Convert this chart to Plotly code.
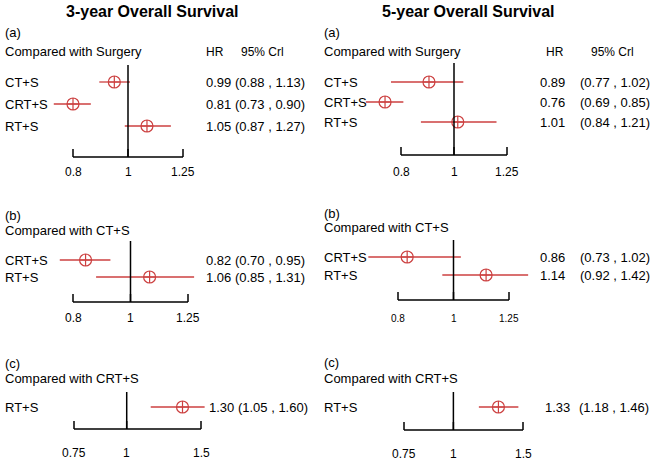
import math
import plotly.graph_objects as go

# ---- data ----
titles = ["3-year Overall Survival", "5-year Overall Survival"]
panel_tags = ["(a)", "(b)", "(c)"]
comparators = ["Compared with Surgery", "Compared with CT+S", "Compared with CRT+S"]
treatments_a = ["CT+S", "CRT+S", "RT+S"]
treatments_b = ["CRT+S", "RT+S"]
treatments_c = ["RT+S"]

# reported HR and 95% CrI (text columns)
hr_3y_a = [0.99, 0.81, 1.05]
lo_3y_a = [0.88, 0.73, 0.87]
hi_3y_a = [1.13, 0.90, 1.27]
hr_3y_b = [0.82, 1.06]
lo_3y_b = [0.70, 0.85]
hi_3y_b = [0.95, 1.31]
hr_3y_c = [1.30]
lo_3y_c = [1.05]
hi_3y_c = [1.60]
hr_5y_a = [0.89, 0.76, 1.01]
lo_5y_a = [0.77, 0.69, 0.84]
hi_5y_a = [1.02, 0.85, 1.21]
hr_5y_b = [0.86, 1.14]
lo_5y_b = [0.73, 0.92]
hi_5y_b = [1.02, 1.42]
hr_5y_c = [1.33]
lo_5y_c = [1.18]
hi_5y_c = [1.46]

# point estimates / intervals as drawn in the plotted marks
pt_3y_a = [0.946, 0.80, 1.08]
pl_3y_a = [0.89, 0.74, 0.987]
ph_3y_a = [1.008, 0.86, 1.19]
pt_3y_b = [0.84, 1.077]
pl_3y_b = [0.76, 0.875]
ph_3y_b = [0.925, 1.28]
pt_3y_c = [1.356]
pl_3y_c = [1.14]
ph_3y_c = [1.53]
pt_5y_a = [0.90, 0.748, 1.016]
pl_5y_a = [0.767, 0.69, 0.87]
ph_5y_a = [1.04, 0.808, 1.196]
pt_5y_b = [0.83, 1.14]
pl_5y_b = [0.71, 0.956]
ph_5y_b = [1.03, 1.35]
pt_5y_c = [1.30]
pl_5y_c = [1.16]
ph_5y_c = [1.46]

ticks_ab = [0.8, 1, 1.25]
ticks_c = [0.75, 1, 1.5]
tick_text_ab = ["0.8", "1", "1.25"]
tick_text_c = ["0.75", "1", "1.5"]

W, H = 650, 462
RED = "#cc4040"
FONT = "Liberation Sans, Arial, sans-serif"

# ---- layout of each panel (pixel geometry) ----
panels = [
    dict(col=0, k=0, names=treatments_a, hr=hr_3y_a, lo=lo_3y_a, hi=hi_3y_a,
         pt=pt_3y_a, pl=pl_3y_a, ph=ph_3y_a, ticks=ticks_ab, tt=tick_text_ab,
         tpx=[73, 183], rows=[82, 104, 126], vtop=65, axy=157, tly=172,
         tagy=33, cmpy=52, tfs=12, vx=(204, None)),
    dict(col=1, k=0, names=treatments_a, hr=hr_5y_a, lo=lo_5y_a, hi=hi_5y_a,
         pt=pt_5y_a, pl=pl_5y_a, ph=ph_5y_a, ticks=ticks_ab, tt=tick_text_ab,
         tpx=[401, 507], rows=[82, 102, 125], vtop=63, axy=155, tly=172,
         tagy=33, cmpy=52, tfs=12, vx=(538, 578)),
    dict(col=0, k=1, names=treatments_b, hr=hr_3y_b, lo=lo_3y_b, hi=hi_3y_b,
         pt=pt_3y_b, pl=pl_3y_b, ph=ph_3y_b, ticks=ticks_ab, tt=tick_text_ab,
         tpx=[73, 188], rows=[260, 277], vtop=241, axy=302, tly=318,
         tagy=215, cmpy=230, tfs=12, vx=(204, None)),
    dict(col=1, k=1, names=treatments_b, hr=hr_5y_b, lo=lo_5y_b, hi=hi_5y_b,
         pt=pt_5y_b, pl=pl_5y_b, ph=ph_5y_b, ticks=ticks_ab, tt=tick_text_ab,
         tpx=[398, 509], rows=[257, 275], vtop=240, axy=300, tly=318,
         tagy=213, cmpy=228, tfs=10, vx=(538, 578)),
    dict(col=0, k=2, names=treatments_c, hr=hr_3y_c, lo=lo_3y_c, hi=hi_3y_c,
         pt=pt_3y_c, pl=pl_3y_c, ph=ph_3y_c, ticks=ticks_c, tt=tick_text_c,
         tpx=[74, 201], rows=[407], vtop=392, axy=429, tly=453,
         tagy=363, cmpy=378, tfs=12, vx=(207, None)),
    dict(col=1, k=2, names=treatments_c, hr=hr_5y_c, lo=lo_5y_c, hi=hi_5y_c,
         pt=pt_5y_c, pl=pl_5y_c, ph=ph_5y_c, ticks=ticks_c, tt=tick_text_c,
         tpx=[404, 523], rows=[407], vtop=392, axy=430, tly=454,
         tagy=362, cmpy=378, tfs=12, vx=(543, 577)),
]

fig = go.Figure()
shapes = []
annotations = []


def ann(text, x, y, xref="paper", yref="paper", xanchor="left", size=13, **kw):
    annotations.append(dict(text=text, x=x, y=y, xref=xref, yref=yref,
                            xanchor=xanchor, yanchor="middle", showarrow=False,
                            font=dict(family=FONT, size=size, color="black"), **kw))


for i, p in enumerate(panels, start=1):
    xa = "xaxis" if i == 1 else "xaxis%d" % i
    ya = "yaxis" if i == 1 else "yaxis%d" % i
    xr = "x" if i == 1 else "x%d" % i
    yr = "y" if i == 1 else "y%d" % i
    col_l = 0 if p["col"] == 0 else 325
    col_r = col_l + 325

    # x axis: log scale placed so that end ticks land where they are drawn
    t0, t1 = math.log10(p["ticks"][0]), math.log10(p["ticks"][-1])
    s = (p["tpx"][1] - p["tpx"][0]) / (t1 - t0)
    xrng = [t0 - (p["tpx"][0] - col_l) / s, t1 + (col_r - p["tpx"][1]) / s]

    # y axis: row index units, reversed
    r0 = p["rows"][0]
    d = (p["rows"][1] - p["rows"][0]) if len(p["rows"]) > 1 else 20
    top_px, bot_px = max(p["vtop"] - 15, 0), min(p["tly"] + 8, H)

    def yv(py):
        return (py - r0) / d

    fig.layout[xa] = dict(type="log", range=xrng, domain=[col_l / W, col_r / W],
                          visible=False, anchor=yr, fixedrange=True)
    fig.layout[ya] = dict(range=[yv(bot_px), yv(top_px)],
                          domain=[1 - bot_px / H, 1 - top_px / H],
                          visible=False, anchor=xr, fixedrange=True)

    idx = list(range(len(p["names"])))
    # CI lines
    for j in idx:
        fig.add_trace(go.Scatter(x=[p["pl"][j], p["ph"][j]], y=[j, j], mode="lines",
                                 line=dict(color=RED, width=1.3), xaxis=xr, yaxis=yr,
                                 showlegend=False, hoverinfo="skip"))
    # point estimates
    fig.add_trace(go.Scatter(x=p["pt"], y=idx, mode="markers", xaxis=xr, yaxis=yr,
                             marker=dict(symbol="circle-cross-open", size=12, color=RED,
                                         line=dict(width=1.2, color=RED)),
                             showlegend=False, cliponaxis=False))

    # reference line at HR = 1
    shapes.append(dict(type="line", xref=xr, yref=yr, x0=1, x1=1,
                       y0=yv(p["vtop"]), y1=yv(p["axy"]),
                       line=dict(color="black", width=1.5)))
    # R-style axis
    shapes.append(dict(type="line", xref=xr, yref=yr, x0=p["ticks"][0], x1=p["ticks"][-1],
                       y0=yv(p["axy"]), y1=yv(p["axy"]), line=dict(color="black", width=1.5)))
    for t, tl in zip(p["ticks"], p["tt"]):
        shapes.append(dict(type="line", xref=xr, yref=yr, x0=t, x1=t,
                           y0=yv(p["axy"]), y1=yv(p["axy"] - 8),
                           line=dict(color="black", width=1.5)))
        ann(tl, math.log10(t), yv(p["tly"]), xref=xr, yref=yr, xanchor="center", size=p["tfs"])

    # panel labels
    tx = 3 if p["col"] == 0 else 322
    ann(panel_tags[p["k"]], tx / W, 1 - p["tagy"] / H)
    ann(comparators[p["k"]], tx / W, 1 - p["cmpy"] / H)
    if p["k"] == 0:
        hx, cx = (215, 262) if p["col"] == 0 else (555, 612)
        ann("HR", hx / W, 1 - p["cmpy"] / H, xanchor="center", size=12)
        ann("95% Crl", cx / W, 1 - p["cmpy"] / H, xanchor="center", size=12)

    for j in idx:
        ann(p["names"][j], tx / W, j, yref=yr)
        hx0, cx0 = p["vx"]
        if cx0 is None:
            ann("%.2f (%.2f , %.2f)" % (p["hr"][j], p["lo"][j], p["hi"][j]), hx0 / W, j, yref=yr)
        else:
            ann("%.2f" % p["hr"][j], hx0 / W, j, yref=yr)
            ann("(%.2f , %.2f)" % (p["lo"][j], p["hi"][j]), cx0 / W, j, yref=yr)

# column titles
ann("<b>%s</b>" % titles[0], 152 / W, 1 - 11 / H, xanchor="center", size=16)
ann("<b>%s</b>" % titles[1], 468 / W, 1 - 11 / H, xanchor="center", size=16)

fig.update_layout(width=W, height=H, margin=dict(l=0, r=0, t=0, b=0),
                  paper_bgcolor="white", plot_bgcolor="white",
                  shapes=shapes, annotations=annotations, showlegend=False)

# drop the default page margin so the figure fills the window
fig.write_html("out.html", config={"displayModeBar": False},
               post_script="document.body.style.margin='0';document.body.style.overflow='hidden';")
